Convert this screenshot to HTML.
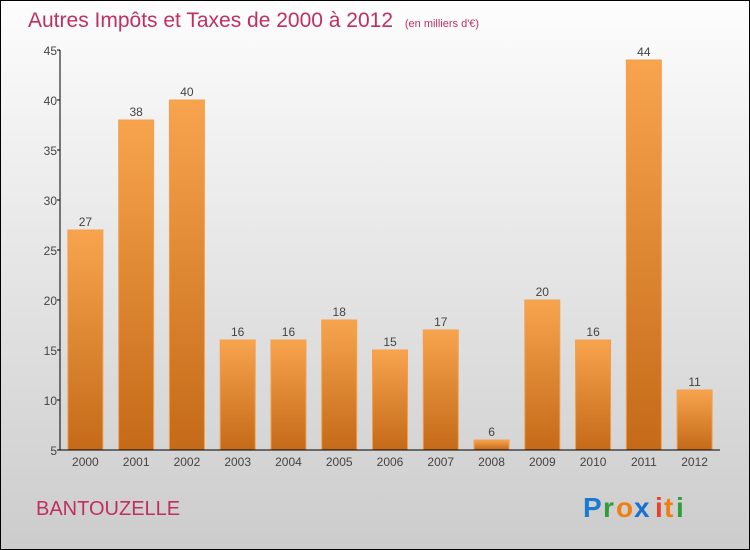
<!DOCTYPE html>
<html><head><meta charset="utf-8"><style>
body{margin:0;}
#c{width:750px;height:550px;position:relative;overflow:hidden;}
text{font-family:"Liberation Sans",sans-serif;}
</style></head><body>
<div id="c">
<svg id="s" width="750" height="550" xmlns="http://www.w3.org/2000/svg">
<defs>
<linearGradient id="bg" x1="0" y1="0" x2="0" y2="1"><stop offset="0" stop-color="#fdfdfd"/><stop offset="1" stop-color="#cccccc"/></linearGradient>
<linearGradient id="bar" x1="0" y1="0" x2="0" y2="1"><stop offset="0" stop-color="#f8a44e"/><stop offset="1" stop-color="#c46a18"/></linearGradient>
</defs>
<rect x="0.5" y="0.5" width="749" height="549" fill="url(#bg)" stroke="#000"/>
<text x="28" y="27" font-size="21" fill="#c0305f">Autres Impôts et Taxes de 2000 à 2012 <tspan font-size="11" dx="6">(en milliers d'€)</tspan></text>
<g id="bars"></g>
<g id="axes"></g>
<text x="36" y="515" font-size="20" fill="#c0305f">BANTOUZELLE</text>
<g font-size="28" font-weight="bold" font-family="Liberation Sans, sans-serif">
<text x="583" y="517" fill="#1a7ad0">P</text><text x="603" y="517" fill="#2f9e3a">r</text><text x="616" y="517" fill="#f07f12">o</text><text x="634" y="517" fill="#1a6fd0">x</text><text x="655" y="517" fill="#e8402a">i</text><text x="664" y="517" fill="#f07f12">t</text><text x="676" y="517" fill="#2f9e3a">i</text>
</g>
</svg>
</div>
<script>
const categories=["2000","2001","2002","2003","2004","2005","2006","2007","2008","2009","2010","2011","2012"];
const values=[27,38,40,16,16,18,15,17,6,20,16,44,11];
const yTicks=[5,10,15,20,25,30,35,40,45];
const NS="http://www.w3.org/2000/svg";
const x0=60,x1=720,yTop=50,yBot=450,yMin=5,yMax=45;
const slot=(x1-x0)/categories.length;
const xc=i=>x0+slot*(i+0.5);
const y=v=>yBot-(v-yMin)/(yMax-yMin)*(yBot-yTop);
function mk(t,a,p){const e=document.createElementNS(NS,t);for(const k in a)e.setAttribute(k,a[k]);p.appendChild(e);return e;}
const bars=document.getElementById('bars'),axes=document.getElementById('axes');
categories.forEach((c,i)=>{
 const v=values[i],bx=xc(i)-17.5;
 const r=mk('rect',{x:bx,y:y(v),width:35,height:yBot-y(v),fill:'url(#bar)',stroke:'#f2a050','stroke-width':1},bars);
 
 
 const t=mk('text',{x:xc(i),y:y(v)-4,'font-size':12,fill:'#444','text-anchor':'middle'},bars);t.textContent=v;
 
 
 const l=mk('text',{x:xc(i),y:466,'font-size':12,fill:'#444','text-anchor':'middle'},axes);l.textContent=c;
 
 
});
const ya=mk('line',{x1:x0,y1:yTop,x2:x0,y2:yBot,stroke:'#000'},axes);


const xa=mk('line',{x1:x0,y1:yBot,x2:x1,y2:yBot,stroke:'#000'},axes);


yTicks.forEach(v=>{
 mk('line',{x1:x0-3,y1:y(v),x2:x0,y2:y(v),stroke:'#000'},axes);
 const t=mk('text',{x:x0-3,y:y(v)+5,'font-size':12,fill:'#444','text-anchor':'end'},axes);t.textContent=v;
 
 
});
</script>
</body></html>
